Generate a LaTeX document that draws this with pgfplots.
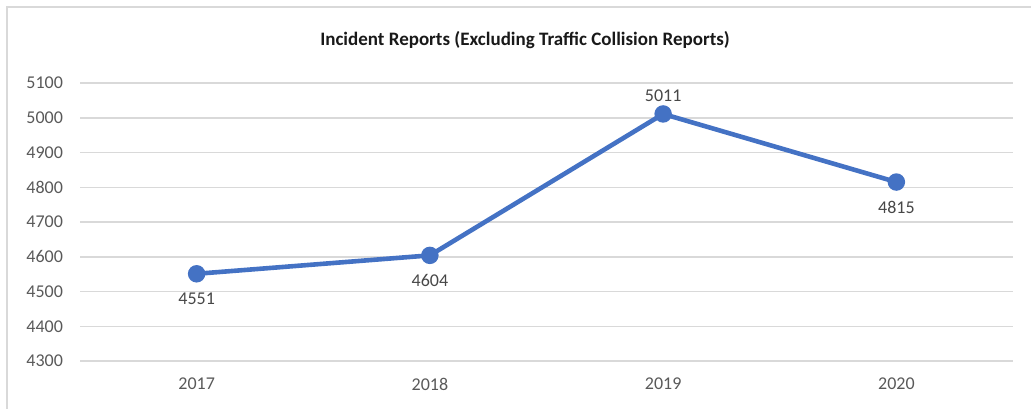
\documentclass[border=0pt]{standalone}
\usepackage{pgfplots}
\pgfplotsset{compat=1.18}
\usepackage{fontspec}
\setmainfont{Carlito}
\definecolor{lineblue}{HTML}{4472C4}
\definecolor{gridgray}{HTML}{D9D9D9}
\definecolor{textgray}{HTML}{595959}
\begin{document}
\begin{tikzpicture}
\useasboundingbox (0,0) rectangle (515.5pt,204pt);
\begin{scope}
\clip (0,0) rectangle (515.5pt,204pt);
\draw[gridgray, line width=0.75pt] (3.5pt,-5pt) -- (3.5pt,200.5pt) -- (525pt,200.5pt);
\end{scope}
\node[font=\fontsize{9.5}{11}\selectfont\bfseries, text=black!90] at (262.5pt,184pt) {Incident Reports (Excluding Traffic Collision Reports)};
\begin{axis}[
  at={(40pt,23.5pt)}, anchor=south west,
  scale only axis, width=466.5pt, height=139pt,
  xmin=-0.5, xmax=3.5, ymin=4300, ymax=5100,
  xtick={0,1,2,3}, xticklabels={2017,2018,2019,2020},
  ytick={4300,4400,...,5100},
  axis line style={draw=none},
  major tick length=0pt,
  ymajorgrids, grid style={gridgray, line width=0.75pt},
  tick label style={font=\fontsize{9}{11}\selectfont, text=textgray},
  yticklabel style={xshift=-5pt},
  xticklabel style={yshift=-5pt},
  /pgf/number format/assume math mode=true,
  /pgf/number format/set thousands separator={},
  clip=false,
]
\addplot[lineblue, line width=2.3pt, mark=*, mark size=3.2pt, mark options={fill=lineblue, draw=lineblue}] coordinates {(0,4551) (1,4604) (2,5011) (3,4815)};
\addplot[draw=none, nodes near coords, point meta=explicit symbolic,
  every node near coord/.append style={anchor=center, yshift=-12.5pt, font=\fontsize{9}{11}\selectfont, text=textgray!80!black}]
  coordinates {(0,4551)[4551] (1,4604)[4604] (3,4815)[4815]};
\addplot[draw=none, nodes near coords, point meta=explicit symbolic,
  every node near coord/.append style={anchor=center, yshift=9pt, font=\fontsize{9}{11}\selectfont, text=textgray!80!black}]
  coordinates {(2,5011)[5011]};
\end{axis}
\end{tikzpicture}
\end{document}
